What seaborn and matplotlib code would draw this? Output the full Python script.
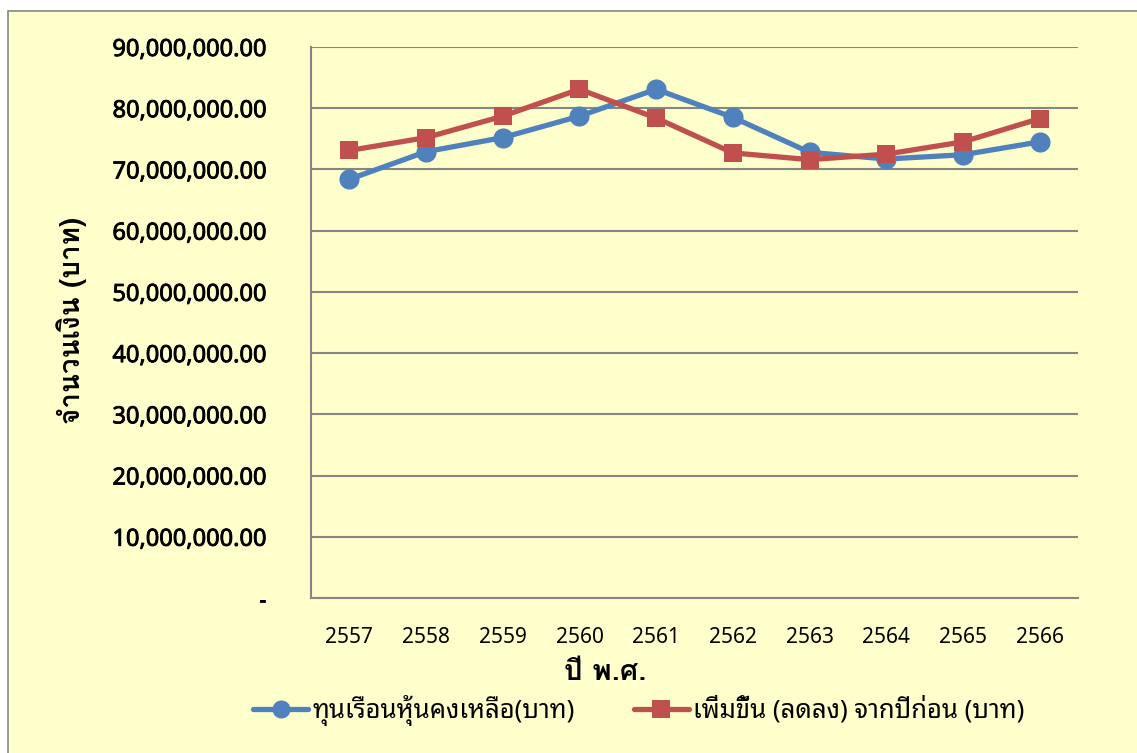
import numpy as np
import pandas as pd
import matplotlib
matplotlib.use("Agg")
import matplotlib.pyplot as plt
import seaborn as sns
from matplotlib import font_manager
from matplotlib.ft2font import FT2Font
from matplotlib.patches import Rectangle
from matplotlib.lines import Line2D
import matplotlib.patheffects as pe

# ---- data ----
years = ["2557", "2558", "2559", "2560", "2561", "2562", "2563", "2564", "2565", "2566"]
remaining_capital = [68.4e6, 72.9e6, 75.2e6, 78.7e6, 83.1e6, 78.5e6, 72.8e6, 71.7e6, 72.4e6, 74.5e6]
change_from_prev = [73.1e6, 75.2e6, 78.7e6, 83.1e6, 78.4e6, 72.7e6, 71.6e6, 72.5e6, 74.5e6, 78.3e6]
series_names = ["ทุนเรือนหุ้นคงเหลือ(บาท)", "เพิ่มขึ้น (ลดลง) จากปีก่อน (บาท)"]
y_ticks = [0, 10e6, 20e6, 30e6, 40e6, 50e6, 60e6, 70e6, 80e6, 90e6]
x_title = "ปี พ.ศ."
y_title = "จำนวนเงิน (บาท)"

# ---- find fonts with Thai glyphs (and whether a bold face exists) ----
thai_fams = {}
for f in font_manager.fontManager.ttflist:
    try:
        cm = FT2Font(f.fname).get_charmap()
    except Exception:
        continue
    if 0x0E08 in cm and 0x0E33 in cm and 0x0E49 in cm:
        w = f.weight if isinstance(f.weight, (int, float)) else font_manager.weight_dict.get(f.weight, 400)
        thai_fams.setdefault(f.name, set()).add(int(w))
names = list(thai_fams)
ordered = ([n for n in names if "Tahoma" in n] + [n for n in names if "Noto Sans Thai" in n]
           + [n for n in names if "Noto" in n] + names)
ordered = list(dict.fromkeys(ordered))
thai_main = ordered[0] if ordered else None
bold_fams = [n for n in ordered if max(thai_fams[n]) >= 600]
thai_bold = bold_fams[0] if bold_fams else thai_main
has_bold = bool(bold_fams)

sns.set_theme(style="white")
base = ([thai_main] if thai_main else []) + ["DejaVu Sans"]
plt.rcParams["font.family"] = base
plt.rcParams["text.color"] = "black"
plt.rcParams["xtick.color"] = "black"
plt.rcParams["ytick.color"] = "black"
bold_family = ([thai_bold] if thai_bold else []) + ["DejaVu Sans"]
fake_bold = [] if has_bold else [pe.withStroke(linewidth=0.9, foreground="black")]

BG = "#FFFFCC"
GRID = "#868686"
BLUE = "#4F81BD"
RED = "#C0504D"

fig = plt.figure(figsize=(11.37, 7.53), dpi=100, facecolor="white")
fig.patches.append(Rectangle((8 / 1137, -0.01), 1.0, 1 - 11 / 753 + 0.01,
                             transform=fig.transFigure, facecolor=BG, edgecolor=GRID,
                             linewidth=1.2, zorder=-10))
ax = fig.add_axes([311 / 1137, 1 - 598 / 753, (1078 - 311) / 1137, (598 - 47) / 753])
ax.set_facecolor(BG)
ax.patch.set_alpha(0)
ax.set_zorder(5)

x = np.arange(len(years))
df = pd.DataFrame({
    "x": np.concatenate([x, x]),
    "value": remaining_capital + change_from_prev,
    "series": [series_names[0]] * len(years) + [series_names[1]] * len(years),
})
sns.lineplot(data=df, x="x", y="value", hue="series", style="series",
             palette={series_names[0]: BLUE, series_names[1]: RED},
             markers={series_names[0]: "o", series_names[1]: "s"},
             dashes=False, linewidth=3.8, markersize=14.5, markeredgewidth=0,
             ax=ax, legend=False, zorder=3)
for ln in ax.lines:
    if ln.get_marker() == "s":
        ln.set_markersize(13.5)

ax.set_xlim(-0.5, len(years) - 0.5)
ax.set_ylim(0, 90e6)
ax.set_xticks(x)
ax.set_xticklabels(years, fontsize=15, family=["Noto Sans", "DejaVu Sans"])
ax.set_xticks(np.arange(-0.5, len(years)), minor=True)
ax.tick_params(axis="x", which="major", length=0, pad=21)
ax.tick_params(axis="x", which="minor", length=8, width=1.3, color=GRID, direction="out")
ax.set_yticks(y_ticks)
ax.set_yticklabels(["-" if v == 0 else f"{v:,.2f}" for v in y_ticks], fontsize=17,
                   fontweight="bold", family=["Noto Sans", "DejaVu Sans"])
for t in ax.get_yticklabels():
    t.set_path_effects([pe.withStroke(linewidth=0.6, foreground="black")])
ax.tick_params(axis="y", length=10, width=1.3, color=GRID, direction="out", pad=22)
ax.grid(axis="y", color=GRID, linewidth=1.5)
ax.grid(axis="x", visible=False)
for s in ["top", "right"]:
    ax.spines[s].set_visible(False)
for s in ["left", "bottom"]:
    ax.spines[s].set_color(GRID)
    ax.spines[s].set_linewidth(1.5)
ax.set_xlabel("")
ax.set_ylabel("")

fig.text(605 / 1137, 1 - 672 / 753, x_title, ha="center", va="center", fontsize=21,
         fontweight="bold", family=bold_family, path_effects=fake_bold)
fig.text(72 / 1137, 1 - 320 / 753, y_title, ha="center", va="center", rotation=90, fontsize=20,
         fontweight="bold", family=bold_family, path_effects=fake_bold)

handles = [Line2D([], [], color=BLUE, marker="o", linewidth=3.8, markersize=13, markeredgewidth=0),
           Line2D([], [], color=RED, marker="s", linewidth=3.8, markersize=13, markeredgewidth=0)]
fig.legend(handles, series_names, loc="center left", bbox_to_anchor=(253 / 1137, 1 - 710 / 753),
           ncol=2, frameon=False, fontsize=18.5, handlelength=2.15, handletextpad=0.15,
           columnspacing=2.3, borderpad=0, borderaxespad=0)

fig.savefig("out.png", dpi=100, facecolor="white")
